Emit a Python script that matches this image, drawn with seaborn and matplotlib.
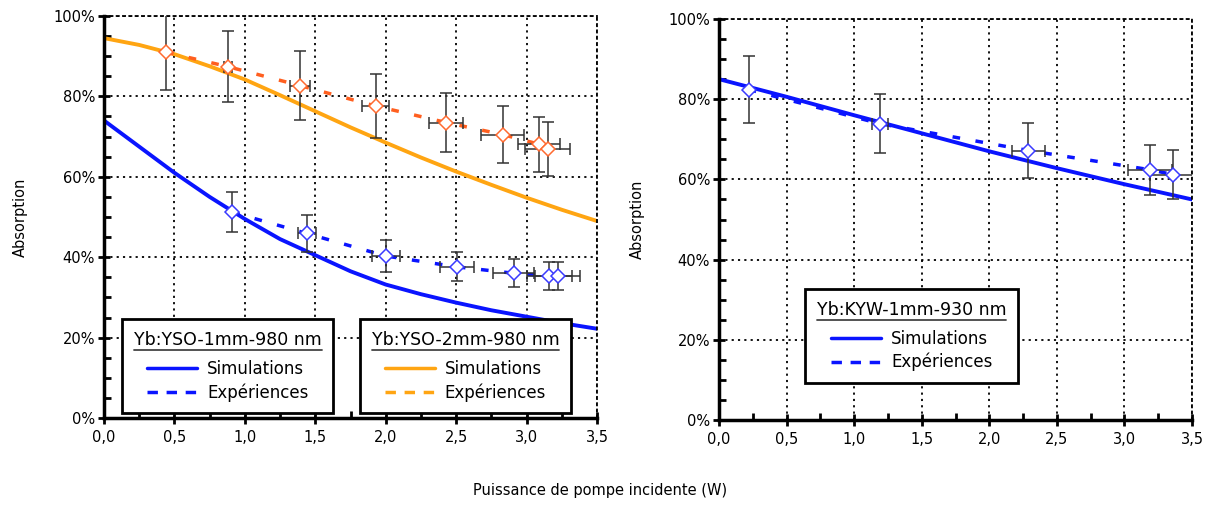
import numpy as np
import pandas as pd
import seaborn as sns
import matplotlib
matplotlib.use("Agg")
import matplotlib.pyplot as plt
from matplotlib.lines import Line2D
from matplotlib.ticker import MultipleLocator, FuncFormatter

# ---------------- data ----------------
# Left panel: simulations
sim_x_left = [0.0, 0.25, 0.5, 0.75, 1.0, 1.25, 1.5, 1.75, 2.0, 2.25, 2.5, 2.75, 3.0, 3.25, 3.5]
sim_yso1 = [74.0, 67.5, 61.0, 55.0, 49.5, 44.5, 40.5, 36.5, 33.2, 30.8, 28.7, 26.8, 25.2, 23.6, 22.2]
sim_yso2 = [94.5, 92.8, 90.5, 87.5, 84.2, 80.3, 76.3, 72.3, 68.5, 64.8, 61.3, 58.0, 54.8, 51.8, 49.0]

# Left panel: experiments
exp_yso1_x = [0.91, 1.44, 2.00, 2.505, 2.91, 3.16, 3.22]
exp_yso1_y = [51.2, 45.9, 40.3, 37.6, 36.0, 35.3, 35.3]
exp_yso1_yerr = [5.0, 4.6, 4.1, 3.6, 3.5, 3.4, 3.4]
exp_yso1_xerr = [0.0, 0.065, 0.10, 0.12, 0.145, 0.16, 0.16]

exp_yso2_x = [0.44, 0.88, 1.39, 1.93, 2.43, 2.83, 3.09, 3.15]
exp_yso2_y = [91.0, 87.4, 82.7, 77.6, 73.5, 70.5, 68.1, 66.9]
exp_yso2_yerr = [9.3, 8.8, 8.5, 7.9, 7.4, 7.0, 6.8, 6.7]
exp_yso2_xerr = [0.0, 0.03, 0.07, 0.095, 0.12, 0.15, 0.15, 0.16]

# Right panel
sim_x_right = [0.0, 0.5, 1.0, 1.5, 2.0, 2.5, 3.0, 3.5]
sim_kyw = [85.0, 80.6, 76.0, 71.5, 67.0, 62.8, 58.8, 55.0]
exp_kyw_x = [0.22, 1.19, 2.29, 3.19, 3.36]
exp_kyw_y = [82.4, 73.9, 67.2, 62.4, 61.2]
exp_kyw_yerr = [8.3, 7.4, 6.8, 6.2, 6.2]
exp_kyw_xerr = [0.0, 0.06, 0.12, 0.16, 0.17]

xticks = [0.0, 0.5, 1.0, 1.5, 2.0, 2.5, 3.0, 3.5]
yticks = [0, 20, 40, 60, 80, 100]

legend_titles = ["Yb:YSO-1mm-980 nm", "Yb:YSO-2mm-980 nm", "Yb:KYW-1mm-930 nm"]
entry_labels = ["Simulations", "Expériences"]
x_label = "Puissance de pompe incidente (W)"
y_label = "Absorption"

# ---------------- style ----------------
sns.set_theme(style="white")
plt.rcParams['font.family'] = ['DejaVu Sans']
plt.rcParams['font.size'] = 10.5
for k in ['text.color', 'axes.labelcolor', 'xtick.color', 'ytick.color']:
    plt.rcParams[k] = 'black'

BLUE = "#0A14FF"
ORANGE = "#FFA512"
ORANGE_EXP = "#FF5F1F"
ORANGE_MK = "#FF6A30"
BLUE_MK = "#3A3AFF"
ERR = "#333333"

fig = plt.figure(figsize=(12.16, 5.15), dpi=100)
axL = fig.add_axes([104 / 1216, 1 - 418 / 515, (597 - 104) / 1216, (418 - 16) / 515])
axR = fig.add_axes([719 / 1216, 1 - 420 / 515, (1192 - 719) / 1216, (420 - 19) / 515])


def style_axes(ax, label_x):
    ax.set_xlim(0, 3.5)
    ax.set_ylim(0, 100)
    ax.set_xticks(xticks)
    ax.set_yticks(yticks)
    ax.xaxis.set_minor_locator(MultipleLocator(0.25))
    ax.yaxis.set_minor_locator(MultipleLocator(5))
    ax.xaxis.set_major_formatter(FuncFormatter(lambda v, p: f"{v:.1f}".replace(".", ",")))
    ax.yaxis.set_major_formatter(FuncFormatter(lambda v, p: f"{v:.0f}%"))
    ax.tick_params(axis='both', which='major', direction='inout', length=9, width=2,
                   color='black', labelsize=10.5, pad=2, bottom=True, left=True,
                   labelcolor='black')
    ax.tick_params(axis='x', which='major', pad=4)
    ax.tick_params(axis='both', which='minor', direction='in', length=5, width=2,
                   color='black', bottom=True, left=True)
    ax.grid(True, which='major', color='black', linestyle=(0, (1.2, 2.3)), linewidth=1.3)
    for s in ['left', 'bottom']:
        ax.spines[s].set_color('black')
        ax.spines[s].set_linewidth(2.5)
    for s in ['top', 'right']:
        ax.spines[s].set_color('black')
        ax.spines[s].set_linewidth(1.3)
        ax.spines[s].set_linestyle((0, (1.2, 2.3)))
    ax.set_xlabel("")
    ax.set_ylabel(y_label, fontsize=10.5, color='black')
    ax.yaxis.set_label_coords(label_x, 0.5)


def draw_exp(ax, x, y, yerr, xerr, line_color, mk_color):
    ax.plot(x, y, linestyle=(0, (2.2, 4.5)), color=line_color, linewidth=2.5, zorder=3)
    ax.errorbar(x, y, yerr=yerr, xerr=xerr, fmt='none', ecolor=ERR,
                elinewidth=1.1, capsize=4, capthick=1.1, zorder=4)
    ax.plot(x, y, linestyle='none', marker='D', markersize=7.5, markerfacecolor='white',
            markeredgecolor=mk_color, markeredgewidth=1.1, zorder=5)


# Left panel
sns.lineplot(x=sim_x_left, y=sim_yso2, ax=axL, color=ORANGE, linewidth=2.8, zorder=2)
sns.lineplot(x=sim_x_left, y=sim_yso1, ax=axL, color=BLUE, linewidth=2.8, zorder=2)
draw_exp(axL, exp_yso2_x, exp_yso2_y, exp_yso2_yerr, exp_yso2_xerr, ORANGE_EXP, ORANGE_MK)
draw_exp(axL, exp_yso1_x, exp_yso1_y, exp_yso1_yerr, exp_yso1_xerr, BLUE, BLUE_MK)
style_axes(axL, (28 - 104) / 493)

# Right panel
sns.lineplot(x=sim_x_right, y=sim_kyw, ax=axR, color=BLUE, linewidth=2.8, zorder=2)
draw_exp(axR, exp_kyw_x, exp_kyw_y, exp_kyw_yerr, exp_kyw_xerr, BLUE, BLUE_MK)
style_axes(axR, (645 - 719) / 473)


def make_legend(ax, title, color_sim, color_exp, anchor):
    handles = [Line2D([], [], color=color_sim, linewidth=2.5),
               Line2D([], [], color=color_exp, linewidth=2.5, linestyle=(0, (3, 2.5)))]
    leg = ax.legend(handles, entry_labels, title=title, loc='lower left',
                    bbox_to_anchor=anchor, frameon=True, fancybox=False,
                    edgecolor='black', framealpha=1, fontsize=12,
                    title_fontsize=12.5, handlelength=3.0, handletextpad=0.6,
                    borderpad=0.7, labelspacing=0.3, borderaxespad=0)
    leg.get_frame().set_linewidth(2.0)
    leg._legend_box.sep = 8
    leg.set_zorder(10)
    return leg


leg1 = make_legend(axL, legend_titles[0], BLUE, BLUE, (0.037, 0.012))
axL.add_artist(leg1)
leg2 = make_legend(axL, legend_titles[1], ORANGE, ORANGE, (0.519, 0.012))
leg3 = make_legend(axR, legend_titles[2], BLUE, BLUE, (0.182, 0.092))

fig.text(600 / 1216, 1 - 490 / 515, x_label, ha='center', va='center', fontsize=10.5)

# underline the legend titles
fig.canvas.draw()
renderer = fig.canvas.get_renderer()
for leg in (leg1, leg2, leg3):
    bb = leg.get_title().get_window_extent(renderer)
    W, H = fig.bbox.width, fig.bbox.height
    yline = (bb.y0 - 1.0) / H
    fig.add_artist(Line2D([bb.x0 / W, bb.x1 / W], [yline, yline], color='#444444',
                          linewidth=1.3, zorder=20))

fig.savefig("out.png", dpi=100)
